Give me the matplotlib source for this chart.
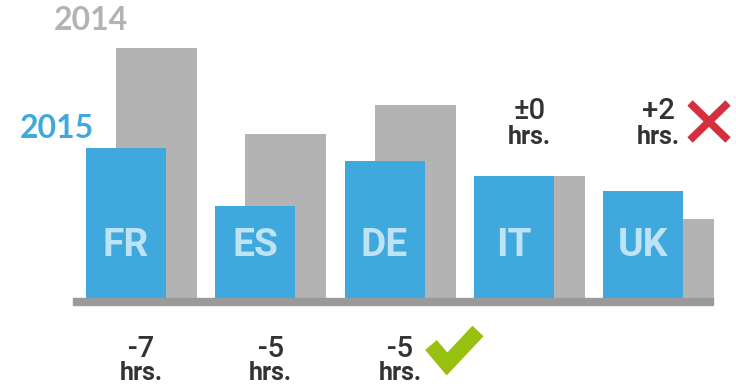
import matplotlib
matplotlib.use("Agg")
import matplotlib.pyplot as plt
from matplotlib.patches import Rectangle
import numpy as np

countries = ["FR", "ES", "DE", "IT", "UK"]
hours_2014 = [17.5, 11.5, 13.5, 8.5, 5.5]
hours_2015 = [10.5, 6.4, 9.6, 8.5, 7.5]
change_labels = ["-7", "-5", "-5", "±0", "+2"]

W, H = 736, 384
fig = plt.figure(figsize=(W / 100, H / 100), dpi=100)

font = "Roboto"

# geometry (pixels)
base_y = 298
scale = 14.3  # px per hour
x0 = 86
step = 129.25
bw_blue = 80
off = 30
bw_gray = 81

ax = fig.add_axes([0, 0, 1, 1])
ax.set_xlim(0, W)
ax.set_ylim(-(H - base_y) / scale, base_y / scale)
ax.axis("off")

ov = fig.add_axes([0, 0, 1, 1], facecolor="none")
ov.set_xlim(0, W)
ov.set_ylim(H, 0)
ov.axis("off")

idx = np.arange(len(countries))
blue_left = x0 + idx * step
gray_left = blue_left + off

ax.bar(gray_left, hours_2014, width=bw_gray, align="edge", color="#b3b3b3", zorder=1)
ax.bar(blue_left, hours_2015, width=bw_blue, align="edge", color="#3fa8dc", zorder=2)

# baseline
ov.add_patch(Rectangle((73, base_y), 640, 7, color="#9a9a9a", zorder=3))

# country labels
for i, c in enumerate(countries):
    ov.text(blue_left[i] + bw_blue / 2, 245, c, ha="center", va="center",
            fontsize=28, fontweight="bold", family=font, color="#bde3f5", zorder=4)

# year labels
ov.text(91, 21, "2014", ha="center", va="center", fontsize=23, fontweight="bold",
        family="Lato", color="#b3b3b3")
ov.text(57, 129, "2015", ha="center", va="center", fontsize=23, fontweight="bold",
        family="Lato", color="#3fa8dc")

# change labels
for i, lab in enumerate(change_labels):
    cx = (blue_left[i] + gray_left[i] + bw_gray) / 2
    if lab.startswith("-"):
        y1, y2 = 357, 380
    else:
        y1, y2 = 119, 144
    ov.text(cx, y1, lab, ha="center", va="baseline",
            fontsize=21, fontweight="medium", family=font, color="#333333")
    ov.text(cx, y2, "hrs.", ha="center", va="baseline", fontsize=18, fontweight="bold",
            family=font, color="#333333")

# red X icon
ov.plot([690, 728], [103, 140], color="#d42f3c", lw=5.5, solid_capstyle="butt")
ov.plot([690, 728], [140, 103], color="#d42f3c", lw=5.5, solid_capstyle="butt")
# green check icon
ov.plot([431, 447, 478], [345, 364, 331], color="#98c00e", lw=11,
        solid_capstyle="butt", solid_joinstyle="miter")

fig.savefig("out.png", dpi=100)
